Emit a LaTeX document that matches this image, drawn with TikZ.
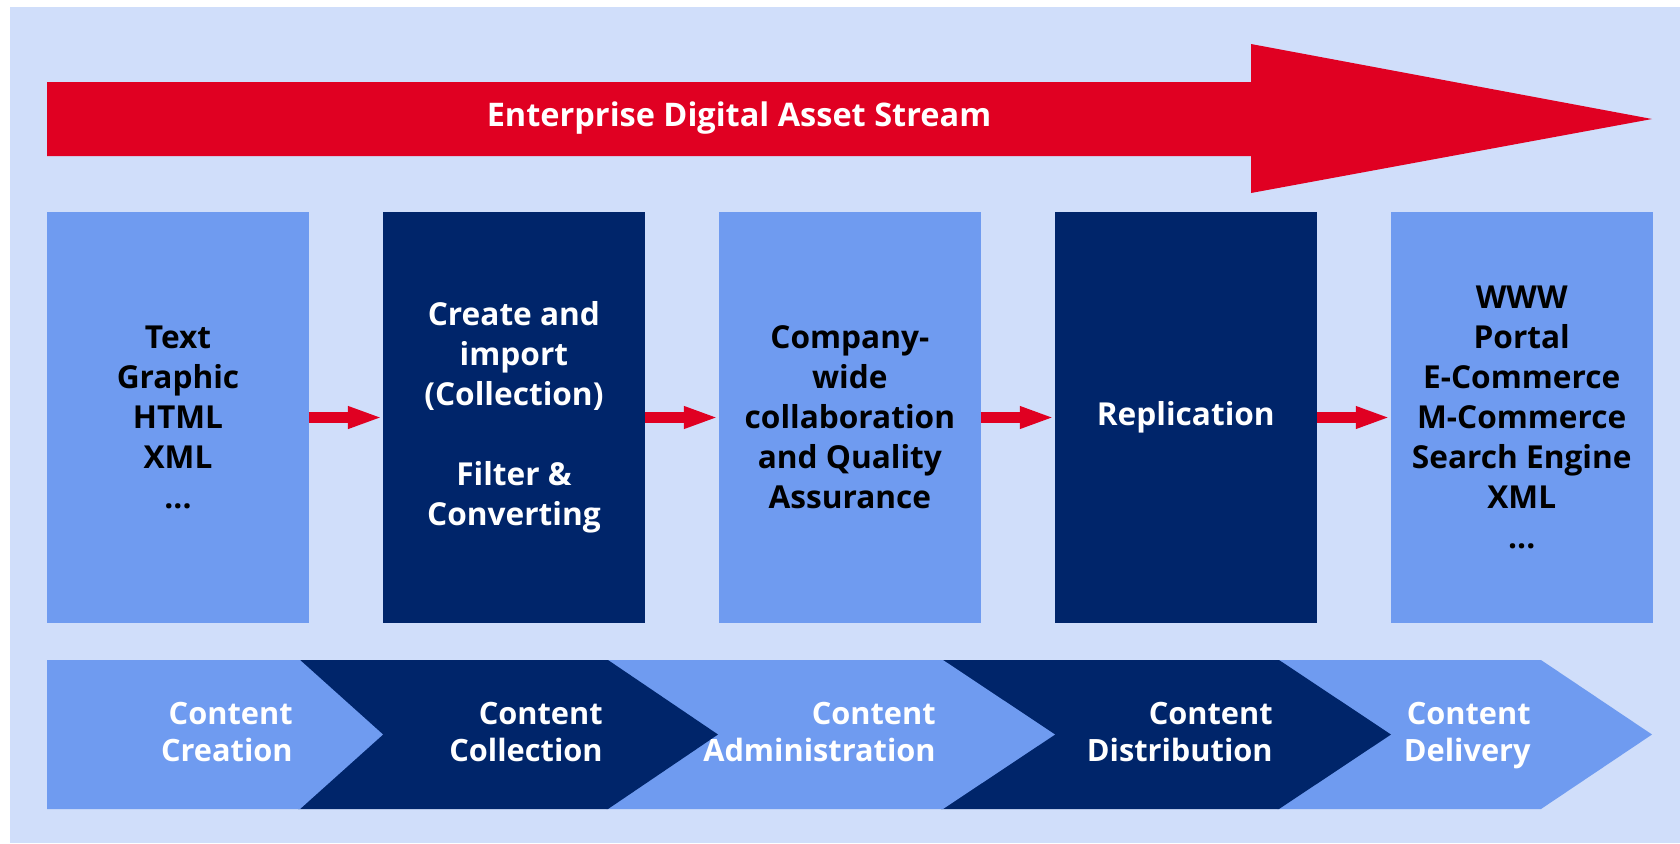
\documentclass[tikz,border=0pt]{standalone}
\usepackage{fontspec}
\setmainfont{Open Sans}
\usetikzlibrary{positioning,arrows.meta}
\definecolor{paleblue}{HTML}{D0DEFA}
\definecolor{midblue}{HTML}{6F9BF0}
\definecolor{navy}{HTML}{00256A}
\definecolor{streamred}{HTML}{E00022}

\begin{document}
\begin{tikzpicture}[x=0.02cm,y=-0.02cm,
        stage/.style={minimum width=5.24cm,minimum height=8.22cm,inner sep=0pt,outer sep=0pt,align=center,
                      font=\fontsize{18}{22.8}\selectfont\bfseries},
        light/.style={stage,fill=midblue,text=black},
        dark/.style={stage,fill=navy,text=white},
        link/.style={streamred,line width=0.22cm,-{Triangle[length=0.7cm,width=0.4cm]}},
        phase/.style={anchor=east,align=right,text=white,inner sep=0pt,text depth=0pt,
                      font=\fontsize{17.5}{21}\selectfont\bfseries}]
        \useasboundingbox (0,0) rectangle (1680,843);
        \fill[paleblue] (10,7) rectangle (1680,843);

        % stream arrow on top
        \fill[streamred] (47,82) -- (1251,82) -- (1251,44) -- (1652,119)
                         -- (1251,193) -- (1251,156) -- (47,156) -- cycle;
        \node[anchor=base,text=white,inner sep=0pt,font=\fontsize{18.5}{22}\selectfont\bfseries]
                (stream) at (739,126) {Enterprise Digital Asset Stream};

        % the five stages
        \node[light] (source) at (178,417.5) {Text\\Graphic\\HTML\\XML\\...};
        \node[dark,right=1.48cm of source] (collect) {Create and\\import\\(Collection)\\[22.8pt]Filter \&\\Converting};
        \node[light,right=1.48cm of collect] (admin) {Company-\\wide\\collaboration\\and Quality\\Assurance};
        \node[dark,right=1.48cm of admin] (replic) {Replication};
        \node[light,right=1.48cm of replic] (channel) {WWW\\Portal\\E-Commerce\\M-Commerce\\Search Engine\\XML\\...};

        \draw[link] (source.east) -- (collect.west);
        \draw[link] (collect.east) -- (admin.west);
        \draw[link] (admin.east) -- (replic.west);
        \draw[link] (replic.east) -- (channel.west);

        % chevrons, drawn right to left so each tip lies on the next one
        \foreach \from/\corner/\tip/\shade in {1277/1541/1652/midblue,941/1279/1391/navy,
                                               606/943/1055/midblue,298/608/718/navy,47/300/383/midblue}
                \fill[\shade] (\from,660) -- (\corner,660) -- (\tip,734.5)
                              -- (\corner,809) -- (\from,809) -- cycle;

        \node[phase] (creation) at (293,732) {Content\\Creation};
        \node[phase] (collection) at (603,732) {Content\\Collection};
        \node[phase] (administration) at (936,732) {Content\\Administration};
        \node[phase] (distribution) at (1273,732) {Content\\Distribution};
        \node[phase] (delivery) at (1531,732) {Content\\Delivery};
\end{tikzpicture}
\end{document}
